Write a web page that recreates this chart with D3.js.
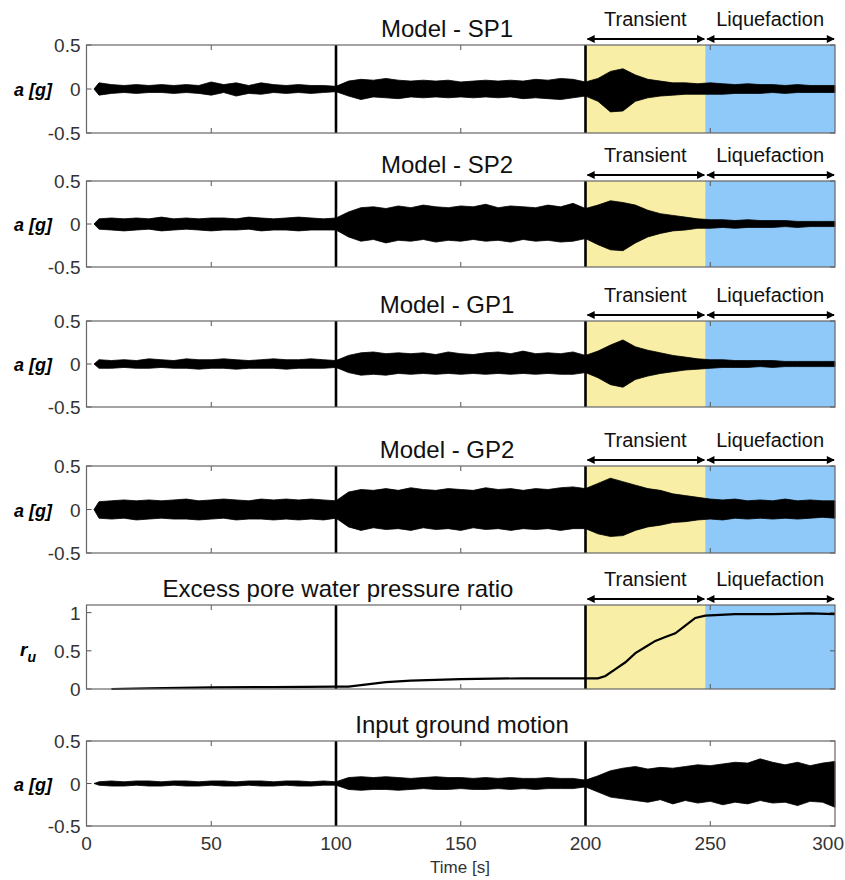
<!DOCTYPE html>
<html>
<head>
<meta charset="utf-8">
<script src="https://cdn.jsdelivr.net/npm/d3@7"></script>
<style>
  body { margin: 0; background: #fff; }
  text { font-family: "Liberation Sans", Arial, sans-serif; }
</style>
</head>
<body>
<div id="chart"></div>
<script>
// Sampling times (s) of the envelope
const accTime = [3, 5, 10, 15, 20, 25, 30, 35, 40, 45, 50, 55, 60, 65, 70, 75, 80, 85, 90, 95,
  100, 105, 110, 115, 120, 125, 130, 135, 140, 145, 150, 155, 160, 165, 170, 175, 180, 185, 190, 195,
  200, 205, 210, 215, 220, 225, 230, 235, 240, 245, 250, 255, 260, 265, 270, 275, 280, 285, 290, 295, 300];

// Upper / lower envelopes of each acceleration record (g)
const sp1Upper = [0, 0.07, 0.05, 0.04, 0.05, 0.04, 0.05, 0.04, 0.05, 0.04, 0.08, 0.05, 0.07, 0.04, 0.07, 0.05, 0.04, 0.05, 0.04, 0.04,
  0.03, 0.09, 0.11, 0.10, 0.12, 0.10, 0.09, 0.10, 0.09, 0.10, 0.08, 0.09, 0.10, 0.09, 0.10, 0.09, 0.11, 0.10, 0.12, 0.11,
  0.08, 0.12, 0.20, 0.23, 0.16, 0.11, 0.09, 0.07, 0.07, 0.06, 0.07, 0.06, 0.05, 0.06, 0.05, 0.05, 0.04, 0.05, 0.04, 0.04, 0.04];
const sp1Lower = [0, -0.07, -0.05, -0.04, -0.05, -0.04, -0.04, -0.05, -0.04, -0.05, -0.07, -0.04, -0.08, -0.05, -0.06, -0.04, -0.05, -0.04, -0.05, -0.04,
  -0.03, -0.08, -0.12, -0.09, -0.10, -0.11, -0.09, -0.10, -0.09, -0.10, -0.09, -0.10, -0.09, -0.10, -0.09, -0.11, -0.10, -0.11, -0.12, -0.10,
  -0.08, -0.14, -0.26, -0.25, -0.14, -0.10, -0.08, -0.07, -0.06, -0.06, -0.06, -0.06, -0.05, -0.05, -0.05, -0.04, -0.05, -0.04, -0.04, -0.04, -0.04];

const sp2Upper = [0, 0.06, 0.07, 0.06, 0.07, 0.06, 0.08, 0.06, 0.07, 0.06, 0.07, 0.07, 0.06, 0.08, 0.07, 0.06, 0.07, 0.08, 0.07, 0.06,
  0.07, 0.14, 0.19, 0.20, 0.18, 0.21, 0.19, 0.22, 0.20, 0.19, 0.21, 0.20, 0.23, 0.19, 0.21, 0.20, 0.19, 0.22, 0.20, 0.24,
  0.18, 0.22, 0.27, 0.25, 0.22, 0.16, 0.12, 0.10, 0.08, 0.06, 0.05, 0.05, 0.04, 0.05, 0.04, 0.04, 0.04, 0.03, 0.03, 0.03, 0.03];
const sp2Lower = [0, -0.06, -0.07, -0.08, -0.07, -0.06, -0.08, -0.07, -0.06, -0.07, -0.08, -0.07, -0.07, -0.06, -0.08, -0.07, -0.07, -0.08, -0.07, -0.07,
  -0.07, -0.15, -0.20, -0.18, -0.22, -0.19, -0.20, -0.18, -0.21, -0.19, -0.20, -0.18, -0.20, -0.19, -0.21, -0.18, -0.20, -0.19, -0.21, -0.20,
  -0.17, -0.24, -0.30, -0.31, -0.22, -0.15, -0.11, -0.08, -0.07, -0.05, -0.05, -0.04, -0.05, -0.04, -0.04, -0.04, -0.03, -0.04, -0.03, -0.03, -0.03];

const gp1Upper = [0, 0.05, 0.04, 0.05, 0.04, 0.06, 0.05, 0.04, 0.06, 0.05, 0.05, 0.06, 0.05, 0.04, 0.05, 0.06, 0.05, 0.05, 0.06, 0.05,
  0.04, 0.10, 0.13, 0.14, 0.12, 0.13, 0.12, 0.13, 0.11, 0.14, 0.12, 0.11, 0.13, 0.14, 0.12, 0.15, 0.12, 0.13, 0.12, 0.14,
  0.10, 0.15, 0.22, 0.28, 0.20, 0.16, 0.13, 0.10, 0.08, 0.06, 0.05, 0.05, 0.04, 0.04, 0.04, 0.04, 0.03, 0.03, 0.03, 0.03, 0.03];
const gp1Lower = [0, -0.05, -0.05, -0.04, -0.05, -0.05, -0.04, -0.05, -0.05, -0.06, -0.05, -0.05, -0.06, -0.05, -0.05, -0.05, -0.06, -0.05, -0.05, -0.05,
  -0.04, -0.10, -0.13, -0.12, -0.13, -0.11, -0.12, -0.11, -0.12, -0.11, -0.12, -0.11, -0.12, -0.11, -0.12, -0.11, -0.12, -0.11, -0.12, -0.12,
  -0.10, -0.16, -0.24, -0.27, -0.18, -0.14, -0.11, -0.09, -0.07, -0.06, -0.05, -0.04, -0.04, -0.04, -0.03, -0.04, -0.03, -0.03, -0.03, -0.03, -0.03];

const gp2Upper = [0, 0.09, 0.10, 0.11, 0.10, 0.11, 0.10, 0.11, 0.12, 0.10, 0.11, 0.12, 0.11, 0.10, 0.12, 0.11, 0.12, 0.11, 0.12, 0.11,
  0.10, 0.20, 0.23, 0.22, 0.24, 0.22, 0.25, 0.23, 0.22, 0.24, 0.23, 0.22, 0.25, 0.23, 0.24, 0.22, 0.24, 0.23, 0.25, 0.26,
  0.24, 0.30, 0.36, 0.32, 0.28, 0.24, 0.22, 0.18, 0.16, 0.14, 0.12, 0.11, 0.12, 0.10, 0.11, 0.10, 0.12, 0.10, 0.11, 0.10, 0.10];
const gp2Lower = [0, -0.10, -0.11, -0.10, -0.12, -0.11, -0.10, -0.11, -0.11, -0.12, -0.11, -0.10, -0.12, -0.11, -0.11, -0.12, -0.11, -0.12, -0.11, -0.12,
  -0.10, -0.20, -0.24, -0.21, -0.23, -0.22, -0.24, -0.21, -0.23, -0.22, -0.24, -0.21, -0.23, -0.22, -0.24, -0.22, -0.23, -0.22, -0.24, -0.22,
  -0.22, -0.28, -0.31, -0.30, -0.24, -0.20, -0.18, -0.15, -0.14, -0.12, -0.11, -0.12, -0.10, -0.11, -0.10, -0.11, -0.10, -0.11, -0.10, -0.09, -0.10];

const inputUpper = [0, 0.02, 0.03, 0.02, 0.03, 0.03, 0.02, 0.03, 0.03, 0.02, 0.03, 0.03, 0.02, 0.03, 0.03, 0.02, 0.03, 0.03, 0.02, 0.03,
  0.02, 0.07, 0.08, 0.07, 0.08, 0.07, 0.06, 0.07, 0.08, 0.07, 0.07, 0.06, 0.07, 0.06, 0.07, 0.06, 0.06, 0.07, 0.06, 0.06,
  0.04, 0.09, 0.15, 0.18, 0.20, 0.17, 0.19, 0.18, 0.20, 0.22, 0.21, 0.23, 0.25, 0.24, 0.29, 0.25, 0.22, 0.25, 0.21, 0.24, 0.26];
const inputLower = [0, -0.02, -0.03, -0.03, -0.02, -0.03, -0.03, -0.02, -0.03, -0.03, -0.02, -0.03, -0.03, -0.02, -0.03, -0.03, -0.02, -0.03, -0.03, -0.02,
  -0.02, -0.07, -0.08, -0.07, -0.07, -0.08, -0.07, -0.06, -0.07, -0.07, -0.06, -0.07, -0.07, -0.06, -0.07, -0.06, -0.07, -0.06, -0.06, -0.06,
  -0.04, -0.10, -0.16, -0.18, -0.20, -0.22, -0.19, -0.24, -0.20, -0.23, -0.21, -0.25, -0.22, -0.24, -0.20, -0.23, -0.22, -0.26, -0.21, -0.22, -0.28];

// Excess pore water pressure ratio
const ruTime = [10, 25, 50, 75, 100, 105, 110, 120, 130, 140, 150, 175, 200, 205, 208, 212, 216, 220, 224, 228, 232, 236, 240, 244, 248, 260, 275, 290, 300];
const ruValue = [0, 0.01, 0.02, 0.025, 0.03, 0.03, 0.05, 0.09, 0.11, 0.12, 0.13, 0.14, 0.14, 0.14, 0.17, 0.26, 0.35, 0.47, 0.55, 0.63, 0.68, 0.73, 0.83, 0.93, 0.96, 0.98, 0.98, 0.99, 0.98];

// Phases and axis ticks
const phaseNames = ["Transient", "Liquefaction"];
const phaseBounds = [200, 248, 300];
const markerTimes = [100, 200];
const xTicks = [0, 50, 100, 150, 200, 250, 300];
const accTicks = [-0.5, 0, 0.5];
const ruTicks = [0, 0.5, 1];

const width = 845, height = 880;
const left = 86.5, right = 835;
const phaseColors = ["#f8eea6", "#8fc9f9"];

const svg = d3.select("#chart").append("svg")
  .attr("width", width).attr("height", height);

const x = d3.scaleLinear().domain([0, 300]).range([left, right]);

const panels = [
  { title: "Model - SP1", tx: 447, top: 45, bottom: 133, upper: sp1Upper, lower: sp1Lower, phases: true },
  { title: "Model - SP2", tx: 447, top: 181, bottom: 267, upper: sp2Upper, lower: sp2Lower, phases: true },
  { title: "Model - GP1", tx: 447, top: 321, bottom: 407, upper: gp1Upper, lower: gp1Lower, phases: true },
  { title: "Model - GP2", tx: 447, top: 466, bottom: 553, upper: gp2Upper, lower: gp2Lower, phases: true },
  { title: "Excess pore water pressure ratio", tx: 338, top: 605, bottom: 689, ru: true, phases: true },
  { title: "Input ground motion", tx: 462, top: 741, bottom: 826, upper: inputUpper, lower: inputLower, phases: false, xlabels: true }
];

// arrow head marker
const defs = svg.append("defs");
["start", "end"].forEach(k => {
  defs.append("marker")
    .attr("id", "arrow-" + k)
    .attr("viewBox", "0 0 10 10")
    .attr("refX", k === "end" ? 9 : 1).attr("refY", 5)
    .attr("markerWidth", 10).attr("markerHeight", 8)
    .attr("markerUnits", "userSpaceOnUse")
    .attr("orient", "auto")
    .append("path")
    .attr("d", k === "end" ? "M0,0L10,5L0,10Z" : "M10,0L0,5L10,10Z")
    .attr("fill", "#000");
});

panels.forEach(p => {
  const g = svg.append("g");
  const y = p.ru
    ? d3.scaleLinear().domain([0, 1.1]).range([p.bottom, p.top])
    : d3.scaleLinear().domain([-0.5, 0.5]).range([p.bottom, p.top]);
  const ticks = p.ru ? ruTicks : accTicks;

  // shaded phases
  if (p.phases) {
    phaseNames.forEach((name, i) => {
      const x0 = x(phaseBounds[i]), x1 = x(phaseBounds[i + 1]);
      g.append("rect")
        .attr("x", x0).attr("y", p.top)
        .attr("width", x1 - x0).attr("height", p.bottom - p.top)
        .attr("fill", phaseColors[i]);
      g.append("line")
        .attr("x1", x0 + 2).attr("x2", x1 - 1)
        .attr("y1", p.top - 6).attr("y2", p.top - 6)
        .attr("stroke", "#000").attr("stroke-width", 2)
        .attr("marker-start", "url(#arrow-start)")
        .attr("marker-end", "url(#arrow-end)");
      g.append("text")
        .attr("x", (x0 + x1) / 2).attr("y", p.top - 19)
        .attr("text-anchor", "middle")
        .style("font-size", "20px").attr("fill", "#111")
        .text(name);
    });
  }

  // ticks inside frame
  xTicks.filter(t => t > 0 && t < 300).forEach(t => {
    g.append("line").attr("x1", x(t)).attr("x2", x(t))
      .attr("y1", p.top).attr("y2", p.top + 5).attr("stroke", "#555");
    g.append("line").attr("x1", x(t)).attr("x2", x(t))
      .attr("y1", p.bottom).attr("y2", p.bottom - 5).attr("stroke", "#555");
  });
  ticks.forEach(t => {
    g.append("line").attr("x1", left).attr("x2", left + 5)
      .attr("y1", y(t)).attr("y2", y(t)).attr("stroke", "#555");
    g.append("line").attr("x1", right).attr("x2", right - 5)
      .attr("y1", y(t)).attr("y2", y(t)).attr("stroke", "#555");
    g.append("text")
      .attr("x", left - 6).attr("y", y(t) + 7)
      .attr("text-anchor", "end")
      .style("font-size", "19px").attr("fill", "#333")
      .text(t === 0 ? "0" : String(t));
  });

  // data
  if (p.ru) {
    const line = d3.line().x((d, i) => x(ruTime[i])).y(d => y(d));
    g.append("path").datum(ruValue)
      .attr("d", line).attr("fill", "none")
      .attr("stroke", "#000").attr("stroke-width", 2.2);
  } else {
    const area = d3.area()
      .x((d, i) => x(accTime[i]))
      .y0((d, i) => y(p.lower[i]))
      .y1(d => y(d));
    g.append("path").datum(p.upper)
      .attr("d", area)
      .attr("fill", "#000").attr("stroke", "#000").attr("stroke-width", 0.8);
  }

  // marker lines at 100 s and 200 s
  markerTimes.forEach(t => {
    g.append("line").attr("x1", x(t)).attr("x2", x(t))
      .attr("y1", p.top).attr("y2", p.bottom)
      .attr("stroke", "#000").attr("stroke-width", 2.6);
  });

  // frame
  g.append("rect")
    .attr("x", left).attr("y", p.top)
    .attr("width", right - left).attr("height", p.bottom - p.top)
    .attr("fill", "none").attr("stroke", "#666").attr("stroke-width", 1.2);

  // title
  g.append("text")
    .attr("x", p.tx).attr("y", p.top - 8)
    .attr("text-anchor", "middle")
    .style("font-size", "24px").attr("fill", "#111")
    .text(p.title);

  // y label
  if (p.ru) {
    const lbl = g.append("text")
      .attr("x", 20).attr("y", y(0.5) + 5)
      .style("font-size", "19px").style("font-weight", "bold").style("font-style", "italic");
    lbl.append("tspan").text("r");
    lbl.append("tspan").attr("dy", 6).style("font-size", "14px").text("u");
  } else {
    g.append("text")
      .attr("x", 14).attr("y", y(0) + 7)
      .style("font-size", "18px").style("font-weight", "bold").style("font-style", "italic")
      .text("a [g]");
  }

  // x labels
  if (p.xlabels) {
    xTicks.forEach((t, i) => {
      const last = i === xTicks.length - 1;
      g.append("text")
        .attr("x", last ? width - 1 : x(t)).attr("y", p.bottom + 24)
        .attr("text-anchor", last ? "end" : "middle")
        .style("font-size", "19px").attr("fill", "#333")
        .text(t);
    });
    g.append("text")
      .attr("x", 460).attr("y", p.bottom + 47)
      .attr("text-anchor", "middle")
      .style("font-size", "17px").attr("fill", "#333")
      .text("Time [s]");
  }
});
</script>
</body>
</html>
